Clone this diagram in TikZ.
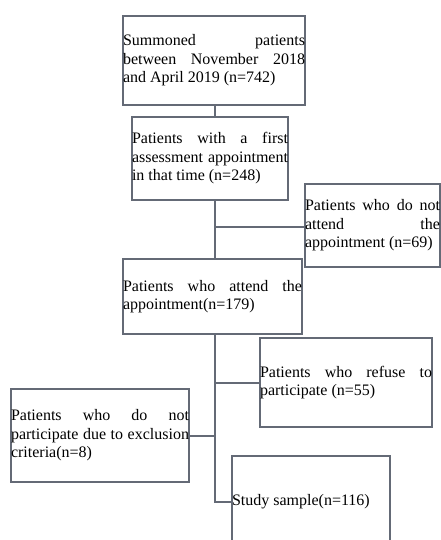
\documentclass[tikz,border=0pt]{standalone}
\usepackage{fontspec}
\setmainfont{Liberation Serif}
\definecolor{linec}{RGB}{100,106,118}
\newcommand{\boxfont}{\fontsize{16}{18.5}\selectfont\tolerance=10000\relax\hbadness=10000\relax\hyphenpenalty=10000\relax\exhyphenpenalty=10000\relax}
\begin{document}
\begin{tikzpicture}[x=1pt,y=-1pt,
  box/.style={draw=linec, line width=1.1pt, inner sep=0pt, outer sep=0pt, align=justify, anchor=north west,
    font=\boxfont},
  conn/.style={draw=linec, line width=1.1pt}]
\useasboundingbox (0,0) rectangle (441,540);

\node[box, text width=182pt, minimum height=89pt] (b1) at (123,16)
  {Summoned patients\linebreak between November 2018\linebreak and April 2019 (n=742)};
\node[box, text width=156pt, minimum height=83pt] (b2) at (132,117)
  {Patients with a first\linebreak assessment appointment\linebreak in that time (n=248)};
\node[box, text width=135pt, minimum height=83pt] (b3) at (305,184)
  {Patients who do not\linebreak attend the\linebreak appointment (n=69)};
\node[box, text width=179pt, minimum height=75pt] (b4) at (123,259)
  {Patients who attend the\linebreak appointment(n=179)};
\node[box, text width=172pt, minimum height=89pt] (b5) at (260,338)
  {Patients who refuse to\linebreak participate (n=55)};
\node[box, text width=178pt, minimum height=93pt] (b6) at (11,389)
  {Patients who do not\linebreak participate due to exclusion\linebreak criteria(n=8)};
\node[box, text width=158pt, minimum height=92pt] (b7) at (232,456)
  {Study sample(n=116)};

\coordinate (t) at (215,0);
\coordinate (j1) at (215,227);
\coordinate (j2) at (215,383);
\coordinate (j3) at (215,436);
\coordinate (j4) at (215,502);

\draw[conn] (b1.south -| t) -- (b2.north -| t);
\draw[conn] (b2.south -| t) -- (b4.north -| t);
\draw[conn] (j1) -- (j1 -| b3.west);
\draw[conn] (b4.south -| t) -- (j4) -- (j4 -| b7.west);
\draw[conn] (j2) -- (j2 -| b5.west);
\draw[conn] (j3) -- (j3 -| b6.east);
\end{tikzpicture}
\end{document}
